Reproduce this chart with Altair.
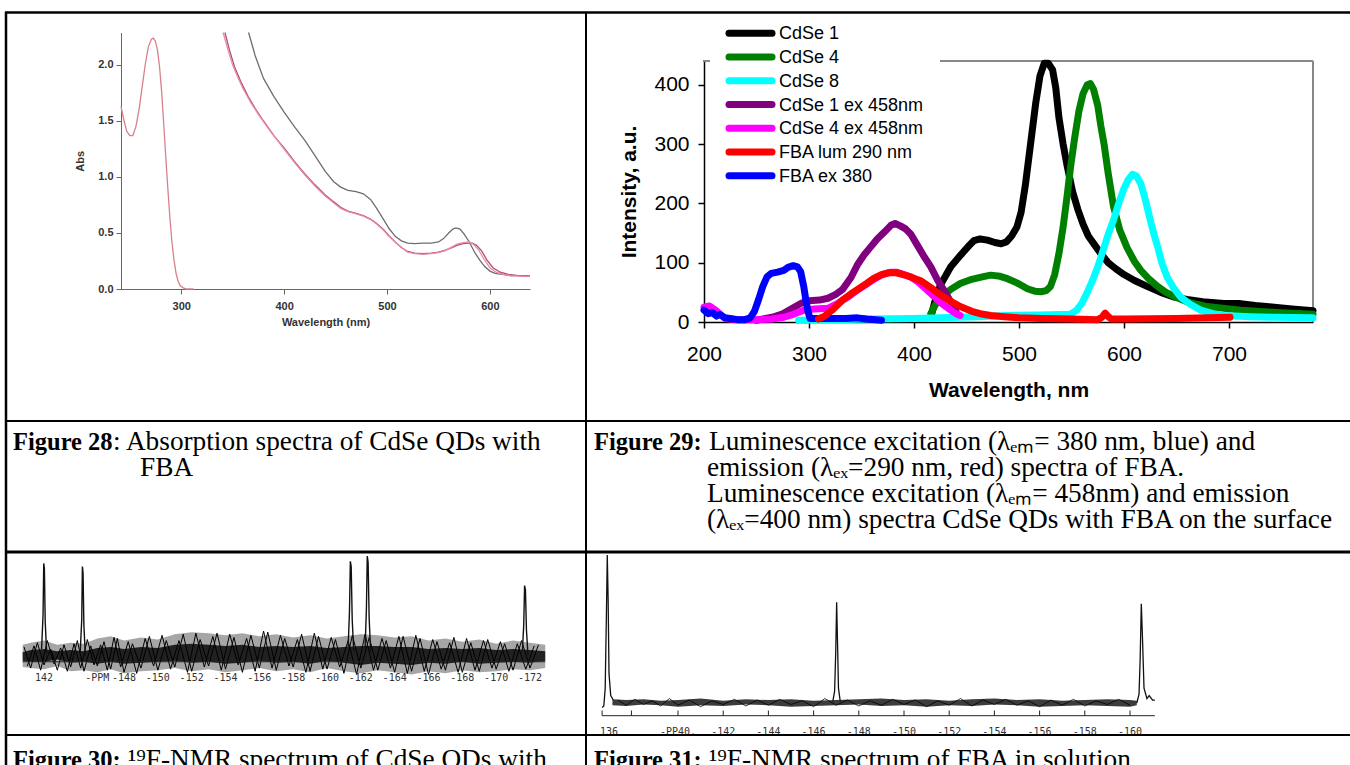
import altair as alt
import pandas as pd

W, H = 1350, 765
SERIF = "Liberation Serif"
SANS = "Liberation Sans"
MONO = "DejaVu Sans Mono"

# ---------------- Figure 28: absorption spectra ----------------
abs_fba_nm = [241.5, 244, 247, 250, 253, 256, 259, 262, 265, 268, 271, 273, 275, 277, 279,
              281, 283, 285, 287, 289, 291, 293, 295, 297, 299, 302, 305, 312]
abs_fba = [1.63, 1.52, 1.41, 1.37, 1.37, 1.45, 1.60, 1.80, 2.00, 2.16, 2.23, 2.24, 2.21, 2.13, 1.98,
           1.76, 1.48, 1.18, 0.90, 0.64, 0.42, 0.26, 0.14, 0.07, 0.03, 0.01, 0.0, 0.0]

abs_qd_nm = [365.5, 372, 380, 390, 400, 410, 420, 430, 440, 448, 455, 462, 470, 477, 484, 490, 496,
             502, 508, 514, 520, 527, 535, 543, 550, 555, 560, 564, 567, 571, 575, 580, 585, 590,
             595, 600, 605, 612, 620, 630, 639]
abs_qd = [2.29, 2.08, 1.88, 1.72, 1.58, 1.45, 1.33, 1.19, 1.05, 0.96, 0.91, 0.88, 0.87, 0.85, 0.80,
          0.72, 0.63, 0.54, 0.47, 0.43, 0.41, 0.405, 0.41, 0.41, 0.42, 0.45, 0.50, 0.535, 0.545,
          0.535, 0.49, 0.42, 0.33, 0.26, 0.20, 0.16, 0.14, 0.13, 0.12, 0.12, 0.115]

abs_qd_fba1_nm = [340.7, 345, 350, 355, 360, 368, 375, 385, 400, 410, 420, 430, 440, 448, 455, 462,
                  470, 477, 484, 490, 496, 502, 508, 514, 520, 527, 535, 543, 550, 556, 562, 568,
                  574, 579, 584, 589, 594, 600, 606, 613, 620, 630, 639]
abs_qd_fba1 = [2.29, 2.15, 2.0, 1.89, 1.79, 1.66, 1.56, 1.43, 1.25, 1.13, 1.02, 0.92, 0.83, 0.77,
               0.72, 0.69, 0.67, 0.65, 0.62, 0.58, 0.53, 0.47, 0.42, 0.37, 0.33, 0.315, 0.31, 0.315,
               0.325, 0.34, 0.37, 0.40, 0.415, 0.42, 0.40, 0.35, 0.27, 0.19, 0.15, 0.13, 0.12,
               0.115, 0.11]

abs_qd_fba2_nm = [342.5, 347, 352, 358, 365, 372, 380, 390, 400, 410, 420, 430, 440, 448, 455, 462,
                  470, 477, 484, 490, 496, 502, 508, 514, 520, 527, 535, 543, 550, 556, 562, 568,
                  574, 579, 583, 587, 592, 597, 603, 610, 618, 628, 639]
abs_qd_fba2 = [2.29, 2.13, 1.98, 1.85, 1.72, 1.61, 1.50, 1.37, 1.26, 1.14, 1.03, 0.93, 0.84, 0.78,
               0.73, 0.695, 0.675, 0.655, 0.625, 0.585, 0.535, 0.475, 0.42, 0.37, 0.335, 0.32,
               0.315, 0.32, 0.33, 0.345, 0.365, 0.39, 0.405, 0.41, 0.41, 0.39, 0.34, 0.26, 0.19,
               0.15, 0.13, 0.12, 0.115]

# ---------------- Figure 29: luminescence spectra ----------------
lum_names = ["CdSe 1", "CdSe 4", "CdSe 8", "CdSe 1 ex 458nm", "CdSe 4 ex 458nm",
             "FBA lum 290 nm", "FBA ex 380"]
lum_colors = ["#000000", "#008000", "#00ffff", "#800080", "#ff00ff", "#ff0000", "#0000ff"]

cdse1_nm = [416, 420, 425, 435, 444, 452, 457, 463, 470, 477, 483, 488, 493, 498, 502, 506, 511,
            516, 520, 524, 528, 532, 535, 538, 542, 546, 551, 556, 561, 566, 572, 578, 585, 592,
            600, 610, 622, 635, 648, 660, 675, 695, 711, 725, 743, 760, 780]
cdse1 = [8, 35, 62, 93, 112, 128, 137, 140, 138, 134, 132, 135, 145, 160, 185, 230, 300,
         370, 415, 436, 436, 425, 395, 345, 300, 262, 220, 190, 165, 145, 130, 115, 100, 90,
         80, 70, 60, 50, 42, 38, 34, 31, 31, 28, 25, 22, 19]

cdse4_nm = [416, 420, 425, 435, 444, 455, 465, 473, 482, 489, 498, 508, 515, 521, 526, 530, 534,
            538, 542, 546, 549, 553, 557, 561, 565, 568, 571, 575, 578, 581, 585, 590, 596, 603,
            610, 616, 624, 632, 640, 648, 660, 679, 711, 745, 780]
cdse4 = [14, 28, 40, 55, 65, 72, 76, 79, 77, 73, 66, 56, 52, 51, 53, 60, 80,
         115, 160, 215, 260, 310, 355, 385, 400, 402, 392, 365, 330, 300, 250, 195, 155, 125,
         102, 87, 72, 60, 50, 43, 34, 26, 20, 16, 13]

cdse8_nm = [290, 320, 360, 400, 425, 460, 489, 520, 549, 555, 560, 565, 570, 575, 580, 585, 590,
            595, 600, 604, 608, 612, 616, 619, 622, 626, 629, 632, 636, 641, 647, 654, 663, 673,
            685, 695, 720, 743, 780]
cdse8 = [3, 4, 5, 6, 7, 9, 11, 12, 13, 20, 32, 50, 70, 93, 120, 148, 172,
         200, 225, 240, 249, 246, 233, 215, 194, 165, 145, 127, 100, 76, 58, 42, 30, 20,
         14, 11, 9, 8, 7]

cdse1_ex_nm = [250, 265, 275, 285, 293, 300, 310, 318, 325, 332, 340, 346, 352, 358, 365, 372,
               378, 382, 387, 392, 397, 403, 409, 416, 422, 428, 433, 437, 440]
cdse1_ex = [3, 8, 14, 24, 32, 36, 37, 40, 46, 55, 75, 96, 112, 125, 140, 152,
            163, 166, 162, 157, 148, 130, 112, 93, 72, 55, 40, 28, 18]

cdse4_ex_nm = [200, 205, 211, 216, 220, 230, 253, 265, 276, 285, 295, 305, 318, 328, 337, 348,
               360, 370, 378, 384, 390, 397, 405, 416, 425, 435, 440, 444]
cdse4_ex = [25, 27, 20, 12, 6, 4, 4, 5, 8, 13, 20, 22, 23, 32, 42, 56,
            70, 80, 84, 84, 80, 76, 66, 48, 33, 20, 14, 11]

fba_lum_nm = [309, 315, 322, 332, 342, 355, 362, 369, 376, 383, 390, 398, 407, 416, 425, 435,
              444, 455, 463, 473, 486, 500, 521, 550, 575, 579, 582, 585, 588, 600, 650, 701]
fba_lum = [5, 10, 20, 37, 50, 65, 74, 80, 83, 83, 80, 75, 69, 58, 46, 35,
           26, 18, 14, 11, 9, 7, 6, 5, 4, 8, 15, 9, 5, 5, 6, 8]

fba_ex_nm = [200, 204, 208, 212, 215, 220, 225, 232, 239, 244, 248, 252, 256, 260, 264, 270, 276,
             280, 285, 289, 292, 295, 297, 299, 301, 310, 323, 335, 346, 355, 369]
fba_ex = [20, 14, 16, 10, 13, 7, 6, 4, 4, 7, 18, 38, 60, 76, 82, 84, 87,
          92, 95, 93, 85, 60, 37, 18, 6, 6, 6, 6, 7, 5, 3]

lum_series = [
    ("CdSe 1", cdse1_nm, cdse1),
    ("CdSe 4", cdse4_nm, cdse4),
    ("CdSe 8", cdse8_nm, cdse8),
    ("CdSe 1 ex 458nm", cdse1_ex_nm, cdse1_ex),
    ("CdSe 4 ex 458nm", cdse4_ex_nm, cdse4_ex),
    ("FBA ex 380", fba_ex_nm, fba_ex),
    ("FBA lum 290 nm", fba_lum_nm, fba_lum),
]
lum_ticks_x = [200, 300, 400, 500, 600, 700]
lum_ticks_y = [0, 100, 200, 300, 400]

# ---------------- Figure 30: 19F-NMR of CdSe QDs with FBA ----------------
nmr30_env_ppm = [140.4, 141, 142, 143, 144, 145, 146, 147, 148, 149, 150, 151, 152, 153, 154, 155,
                 156, 157, 158, 159, 160, 161, 162, 163, 164, 165, 166, 167, 168, 169, 170, 171,
                 172, 172.9]
nmr30_hi = [16, 18, 20, 16, 18, 17, 22, 24, 20, 23, 21, 26, 28, 27, 25, 27, 24, 26, 23, 25, 22, 24,
            26, 25, 23, 24, 20, 22, 19, 21, 17, 20, 18, 16]
nmr30_lo = [-5, -6, -7, -4, -9, -8, -10, -7, -11, -9, -8, -6, -9, -7, -10, -8, -6, -9, -7, -10, -6,
            -9, -11, -8, -10, -12, -9, -11, -8, -10, -9, -7, -8, -6]
nmr30_core_hi = [9, 11, 12, 10, 11, 10, 13, 14, 12, 14, 13, 16, 17, 16, 15, 16, 14, 15, 14, 15, 13,
                 14, 15, 15, 14, 14, 12, 13, 12, 13, 11, 12, 11, 10]
nmr30_core_lo = [1, 0, 0, 2, -1, 0, -2, 0, -2, -1, 0, 1, -1, 0, -2, -1, 1, -1, 0, -2, 1, -1, -3, -1,
                 -2, -3, -1, -2, 0, -2, -1, 0, -1, 1]
nmr30_trace_ppm = [140.5, 141, 141.5, 142, 142.5, 143, 143.5, 144, 144.5, 145, 145.5, 146, 146.5,
                   147, 147.5, 148, 148.5, 149, 149.5, 150, 150.5, 151, 151.5, 152, 152.5, 153,
                   153.5, 154, 154.5, 155, 155.5, 156, 156.5, 157, 157.5, 158, 158.5, 159, 159.5,
                   160, 160.5, 161, 161.5, 162, 162.5, 163, 163.5, 164, 164.5, 165, 165.5, 166,
                   166.5, 167, 167.5, 168, 168.5, 169, 169.5, 170, 170.5, 171, 171.5, 172, 172.5]
nmr30_trace = [14, -6, 18, -3, 12, -8, 16, -5, 20, -9, 15, -4, 19, -7, 22, -10, 17, -6, 24, -8,
               20, -5, 26, -9, 21, -4, 27, -7, 23, -10, 25, -6, 28, -8, 22, -5, 26, -9, 24, -7,
               21, -11, 25, -6, 23, -8, 20, -10, 24, -9, 22, -12, 19, -8, 23, -10, 18, -9, 21, -7,
               17, -8, 20, -6, 16]
nmr30_trace2_ppm = [140.75, 141.25, 141.75, 142.25, 142.75, 143.25, 143.75, 144.25, 144.75,
                    145.25, 145.75, 146.25, 146.75, 147.25, 147.75, 148.25, 148.75, 149.25,
                    149.75, 150.25, 150.75, 151.25, 151.75, 152.25, 152.75, 153.25, 153.75,
                    154.25, 154.75, 155.25, 155.75, 156.25, 156.75, 157.25, 157.75, 158.25,
                    158.75, 159.25, 159.75, 160.25, 160.75, 161.25, 161.75, 162.25, 162.75,
                    163.25, 163.75, 164.25, 164.75, 165.25, 165.75, 166.25, 166.75, 167.25,
                    167.75, 168.25, 168.75, 169.25, 169.75, 170.25, 170.75, 171.25, 171.75,
                    172.25]
nmr30_trace2 = [-4, 15, -8, 20, -2, 13, -9, 17, -6, 21, -3, 16, -8, 23, -5, 19, -11, 22, -4, 25,
                -7, 20, -10, 27, -5, 24, -8, 26, -3, 22, -9, 29, -6, 25, -4, 21, -10, 27, -7, 23,
                -5, 20, -12, 26, -8, 22, -6, 24, -11, 25, -9, 21, -7, 18, -10, 22, -8, 20, -6, 19,
                -9, 17, -7, 15]
nmr30_peaks = [
    ([141.82, 141.93, 141.98, 142.03, 142.09, 142.2], [12, 45, 93, 88, 38, 8]),
    ([144.72, 144.83, 144.88, 144.93, 144.99, 145.1], [10, 40, 90, 84, 35, 6]),
    ([161.25, 161.33, 161.38, 161.43, 161.49, 161.58], [14, 48, 95, 90, 40, 10]),
    ([162.25, 162.33, 162.38, 162.43, 162.49, 162.58], [12, 50, 100, 94, 42, 9]),
    ([171.55, 171.63, 171.68, 171.73, 171.79, 171.88], [10, 35, 72, 68, 30, 6]),
]
nmr30_tick_ppm = [142, 146, 148, 150, 152, 154, 156, 158, 160, 162, 164, 166, 168, 170, 172]
nmr30_tick_text = ["142", "-PPM", "-148", "-150", "-152", "-154", "-156", "-158", "-160", "-162",
                   "-164", "-166", "-168", "-170", "-172"]

# ---------------- Figure 31: 19F-NMR of FBA in solution ----------------
nmr31_env_ppm = [136.2, 137, 138, 139, 140, 141, 142, 143, 144, 145, 146, 147, 148, 149, 150, 151,
                 152, 153, 154, 155, 156, 157, 158, 159, 160, 160.3]
nmr31_hi = [2.5, 2, 2.5, 1.5, 2, 3, 1.5, 2.5, 2, 2.5, 1.5, 2, 2.5, 3, 2, 2.5, 1.5, 2.5, 3, 2, 2.5,
            1.5, 2, 2.5, 2, 1.5]
nmr31_lo = [-1.5, -2, -1, -1.5, -2.5, -1.5, -2, -1, -1.5, -2.5, -2, -1.5, -1, -2, -1.5, -2.5, -1.5,
            -2, -1, -1.5, -2.5, -2, -1.5, -2, -2.5, -1.5]
nmr31_trace_ppm = [136.5, 137, 137.5, 138, 138.5, 139, 139.5, 140, 140.5, 141, 141.5, 142, 142.5,
                   143, 143.5, 144, 144.5, 145, 145.5, 146, 146.5, 147, 147.5, 148, 148.5, 149,
                   149.5, 150, 150.5, 151, 151.5, 152, 152.5, 153, 153.5, 154, 154.5, 155, 155.5,
                   156, 156.5, 157, 157.5, 158, 158.5, 159, 159.5, 160]
nmr31_trace = [2, -1.5, 2.5, -1, 1.5, -2, 3, -1.5, 2, -2.5, 1.5, -1, 2.5, -2, 2, -1.5, 2.5, -1,
               1.5, -2.5, 3, -1.5, 2, -2, 1.5, -1.5, 2.5, -1, 2, -2.5, 1.5, -1.5, 3, -2, 2, -1,
               2.5, -1.5, 1.5, -2.5, 2, -1.5, 2.5, -2, 1.5, -1, 2.5, -1.5]
nmr31_peaks = [
    ([135.6, 135.7, 135.78, 135.85, 135.9, 135.95, 136.0, 136.1, 136.25],
     [-3, -2, 10, 60, 100, 70, 20, 5, 2]),
    ([146.85, 146.93, 146.98, 147.02, 147.06, 147.1, 147.18], [1, 8, 35, 68, 40, 10, 1]),
    ([160.3, 160.4, 160.45, 160.5, 160.55, 160.62, 160.75, 160.85, 161.0, 161.1],
     [0, 6, 30, 67, 45, 10, 3, 5, 2, 2]),
]
nmr31_axis_ticks = [135.6, 137.3, 140, 142, 144, 146, 148, 150, 152, 154, 156, 158, 160]
nmr31_tick_ppm = [136, 140, 142, 144, 146, 148, 150, 152, 154, 156, 158, 160]
nmr31_tick_text = ["136", "-PP40.", "-142", "-144", "-146", "-148", "-150", "-152", "-154",
                   "-156", "-158", "-160"]

# ---------------- helpers ----------------
one = pd.DataFrame({"k": [0]})


def lin(domain, rng):
    return alt.Scale(domain=domain, range=rng, nice=False, zero=False)


def hline(x0, x1, y, w, color="#000000"):
    return alt.Chart(one).mark_rule(strokeWidth=w, color=color).encode(
        x=alt.value(x0), x2=alt.value(x1), y=alt.value(y))


def vline(x, y0, y1, w, color="#000000"):
    return alt.Chart(one).mark_rule(strokeWidth=w, color=color).encode(
        x=alt.value(x), y=alt.value(y0), y2=alt.value(y1))


def text(s, x, y, size, font=SERIF, weight="normal", align="left", color="#000000",
         baseline="alphabetic"):
    return alt.Chart(pd.DataFrame({"t": [s]})).mark_text(
        align=align, baseline=baseline, font=font, fontSize=size, fontWeight=weight, color=color
    ).encode(x=alt.value(x), y=alt.value(y), text="t:N")


layers = []

# ---------------- Figure 28 layers ----------------
X28 = lin([241.5, 639], [121, 530])
Y28 = lin([0, 2.29], [289, 32.5])
ax28 = dict(labelFont=SANS, labelFontSize=11, labelFontWeight="bold", labelColor="#333333",
            tickColor="#666666", domainColor="#666666", tickSize=5, titleFont=SANS,
            titleFontSize=11, titleFontWeight="bold", titleColor="#333333", labelFlush=False,
            grid=False, labelOverlap=False)


def abs_curve(nm, a, color, axes=False):
    df = pd.DataFrame({"nm": nm, "a": a})
    if axes:
        xa = alt.Axis(orient="bottom", offset=289 - H, values=[300, 400, 500, 600],
                      title="Wavelength (nm)", labelPadding=6, titlePadding=5, **ax28)
        ya = alt.Axis(orient="left", offset=-121, values=[0, 0.5, 1, 1.5, 2], format=".1f",
                      title="Abs", labelPadding=3, titlePadding=12, **ax28)
    else:
        xa = None
        ya = None
    return alt.Chart(df).mark_line(strokeWidth=1.3, color=color).encode(
        x=alt.X("nm:Q", scale=X28, axis=xa), y=alt.Y("a:Q", scale=Y28, axis=ya))


layers.append(abs_curve(abs_fba_nm, abs_fba, "#d8808c", axes=True))
layers.append(abs_curve(abs_qd_nm, abs_qd, "#6e6e6e"))
layers.append(abs_curve(abs_qd_fba2_nm, abs_qd_fba2, "#a9506e"))
layers.append(abs_curve(abs_qd_fba1_nm, abs_qd_fba1, "#ee8aa2"))

# ---------------- Figure 29 layers ----------------
X29 = lin([200, 780], [704, 1313])
Y29 = lin([0, 440], [322, 61])
ax29 = dict(labelFont=SANS, labelFontSize=21, labelColor="#000000", tickColor="#000000",
            domainColor="#000000", tickSize=6, tickWidth=1.5, domainWidth=1.5, titleFont=SANS,
            titleFontSize=21, titleFontWeight="bold", titleColor="#000000", labelFlush=False,
            grid=False, labelOverlap=False)

# plot frame (top and right edges)
layers.append(hline(940, 1313, 61, 2, "#888888"))
layers.append(hline(703, 710, 61, 2, "#888888"))
layers.append(vline(1313, 61, 322, 2, "#888888"))

color29 = dict(zip(lum_names, lum_colors))
for i, (name, nm, vals) in enumerate(lum_series):
    df = pd.DataFrame({"nm": nm, "v": vals})
    if i == 0:
        xa = alt.Axis(orient="bottom", offset=322 - H, values=lum_ticks_x, title="Wavelength, nm",
                      labelPadding=15, titlePadding=15, **ax29)
        ya = alt.Axis(orient="left", offset=-704, values=lum_ticks_y, title="Intensity, a.u.",
                      labelPadding=9, titlePadding=14, **ax29)
    else:
        xa = None
        ya = None
    layers.append(
        alt.Chart(df).mark_line(strokeWidth=7, strokeCap="round", strokeJoin="round",
                                color=color29[name]).encode(
            x=alt.X("nm:Q", scale=X29, axis=xa), y=alt.Y("v:Q", scale=Y29, axis=ya)))

# legend, drawn from the series list
leg_df = pd.DataFrame({"series": lum_names})
leg_y = alt.Y("series:N", scale=alt.Scale(type="point", domain=lum_names, range=[33.3, 175.7],
                                          padding=0), axis=None)
layers.append(
    alt.Chart(leg_df).mark_rule(strokeWidth=7, strokeCap="round").encode(
        x=alt.value(729), x2=alt.value(772), y=leg_y,
        color=alt.Color("series:N", scale=alt.Scale(domain=lum_names, range=lum_colors),
                        legend=None)))
layers.append(
    alt.Chart(leg_df).mark_text(align="left", baseline="middle", font=SANS, fontSize=18,
                                color="#000000", dy=1).encode(
        x=alt.value(779), y=leg_y, text="series:N"))

# ---------------- Figure 30 layers ----------------
X30 = lin([142, 148, 172], [44, 124, 530])
Y30 = lin([-15, 100], [677.6, 556])
env30 = pd.DataFrame({"ppm": nmr30_env_ppm, "hi": nmr30_hi, "lo": nmr30_lo,
                      "chi": nmr30_core_hi, "clo": nmr30_core_lo})
layers.append(alt.Chart(env30).mark_area(color="#3a3a3a", opacity=0.45).encode(
    x=alt.X("ppm:Q", scale=X30, axis=None), y=alt.Y("hi:Q", scale=Y30, axis=None), y2="lo:Q"))
layers.append(alt.Chart(env30).mark_area(color="#000000", opacity=0.8).encode(
    x=alt.X("ppm:Q", scale=X30, axis=None), y=alt.Y("chi:Q", scale=Y30, axis=None), y2="clo:Q"))
for tp, tv in [(nmr30_trace_ppm, nmr30_trace), (nmr30_trace2_ppm, nmr30_trace2)]:
    layers.append(alt.Chart(pd.DataFrame({"ppm": tp, "v": tv})).mark_line(
        color="#000000", strokeWidth=1).encode(
        x=alt.X("ppm:Q", scale=X30, axis=None), y=alt.Y("v:Q", scale=Y30, axis=None)))
base30 = pd.DataFrame({"a": [nmr30_env_ppm[0]], "b": [nmr30_env_ppm[-1]], "v": [0]})
layers.append(alt.Chart(base30).mark_rule(color="#222222", strokeWidth=1).encode(
    x=alt.X("a:Q", scale=X30, axis=None), x2="b:Q", y=alt.Y("v:Q", scale=Y30, axis=None)))
for ppm, vals in nmr30_peaks:
    layers.append(alt.Chart(pd.DataFrame({"ppm": ppm, "v": vals})).mark_line(
        color="#111111", strokeWidth=1.4).encode(
        x=alt.X("ppm:Q", scale=X30, axis=None), y=alt.Y("v:Q", scale=Y30, axis=None)))
lab30 = pd.DataFrame({"ppm": nmr30_tick_ppm, "t": nmr30_tick_text})
layers.append(alt.Chart(lab30).mark_text(font=MONO, fontSize=10, color="#333333",
                                         baseline="middle", align="center").encode(
    x=alt.X("ppm:Q", scale=X30, axis=None), y=alt.value(678), text="t:N"))

# ---------------- Figure 31 layers ----------------
X31 = lin([136, 140, 160], [609, 678, 1130])
Y31 = lin([-10, 100], [717.8, 555])
env31 = pd.DataFrame({"ppm": nmr31_env_ppm, "hi": nmr31_hi, "lo": nmr31_lo})
layers.append(alt.Chart(env31).mark_area(color="#1a1a1a", opacity=0.85).encode(
    x=alt.X("ppm:Q", scale=X31, axis=None), y=alt.Y("hi:Q", scale=Y31, axis=None), y2="lo:Q"))
trace31 = pd.DataFrame({"ppm": nmr31_trace_ppm, "v": nmr31_trace})
layers.append(alt.Chart(trace31).mark_line(color="#000000", strokeWidth=0.8).encode(
    x=alt.X("ppm:Q", scale=X31, axis=None), y=alt.Y("v:Q", scale=Y31, axis=None)))
for ppm, vals in nmr31_peaks:
    layers.append(alt.Chart(pd.DataFrame({"ppm": ppm, "v": vals})).mark_line(
        color="#111111", strokeWidth=1.3).encode(
        x=alt.X("ppm:Q", scale=X31, axis=None), y=alt.Y("v:Q", scale=Y31, axis=None)))
axis31 = pd.DataFrame({"a": [nmr31_axis_ticks[0]], "b": [161.1]})
layers.append(alt.Chart(axis31).mark_rule(color="#222222", strokeWidth=1).encode(
    x=alt.X("a:Q", scale=X31, axis=None), x2="b:Q", y=alt.value(715.7)))
ticks31 = pd.DataFrame({"ppm": nmr31_axis_ticks})
layers.append(alt.Chart(ticks31).mark_rule(color="#222222", strokeWidth=1).encode(
    x=alt.X("ppm:Q", scale=X31, axis=None), y=alt.value(710.5), y2=alt.value(715.7)))
lab31 = pd.DataFrame({"ppm": nmr31_tick_ppm, "t": nmr31_tick_text})
layers.append(alt.Chart(lab31).mark_text(font=MONO, fontSize=10, color="#333333",
                                         baseline="middle", align="center").encode(
    x=alt.X("ppm:Q", scale=X31, axis=None), y=alt.value(731.5), text="t:N"))

# ---------------- captions ----------------
CAP = 27.3
CAPB = 24.5
layers += [
    text("Figure 28", 13, 450, CAPB, weight="bold"),
    text(": Absorption spectra of CdSe QDs with", 113, 450, CAP),
    text("FBA", 140, 476, CAP),
    text("Figure 29:", 594, 450, CAPB, weight="bold"),
    text("Luminescence excitation (λₑₘ= 380 nm, blue) and", 709, 450, CAP),
    text("emission (λₑₓ=290 nm, red) spectra of FBA.", 707, 476, CAP),
    text("Luminescence excitation (λₑₘ= 458nm) and emission", 707, 502, CAP),
    text("(λₑₓ=400 nm) spectra CdSe QDs with FBA on the surface", 707, 528, CAP),
    text("Figure 30:", 13, 768, CAPB, weight="bold"),
    text("¹⁹F-NMR spectrum of CdSe QDs with", 128, 768, CAP),
    text("Figure 31:", 594, 768, CAPB, weight="bold"),
    text("¹⁹F-NMR spectrum of FBA in solution", 709, 768, CAP),
]

# ---------------- table grid ----------------
layers += [
    hline(5, W, 12.5, 2.5),
    vline(6, 12, H, 2.5),
    vline(586, 12, H, 2),
    hline(5, W, 421, 2),
    hline(5, W, 552, 3),
    hline(5, W, 735, 2),
]

chart = (
    alt.layer(*layers)
    .resolve_scale(x="independent", y="independent", color="independent")
    .properties(width=W, height=H, autosize=alt.AutoSizeParams(type="none"), padding=0)
    .configure_view(stroke=None)
    .configure_axis(grid=False)
)

chart.save("out.html", embed_options={"renderer": "svg", "actions": False})
